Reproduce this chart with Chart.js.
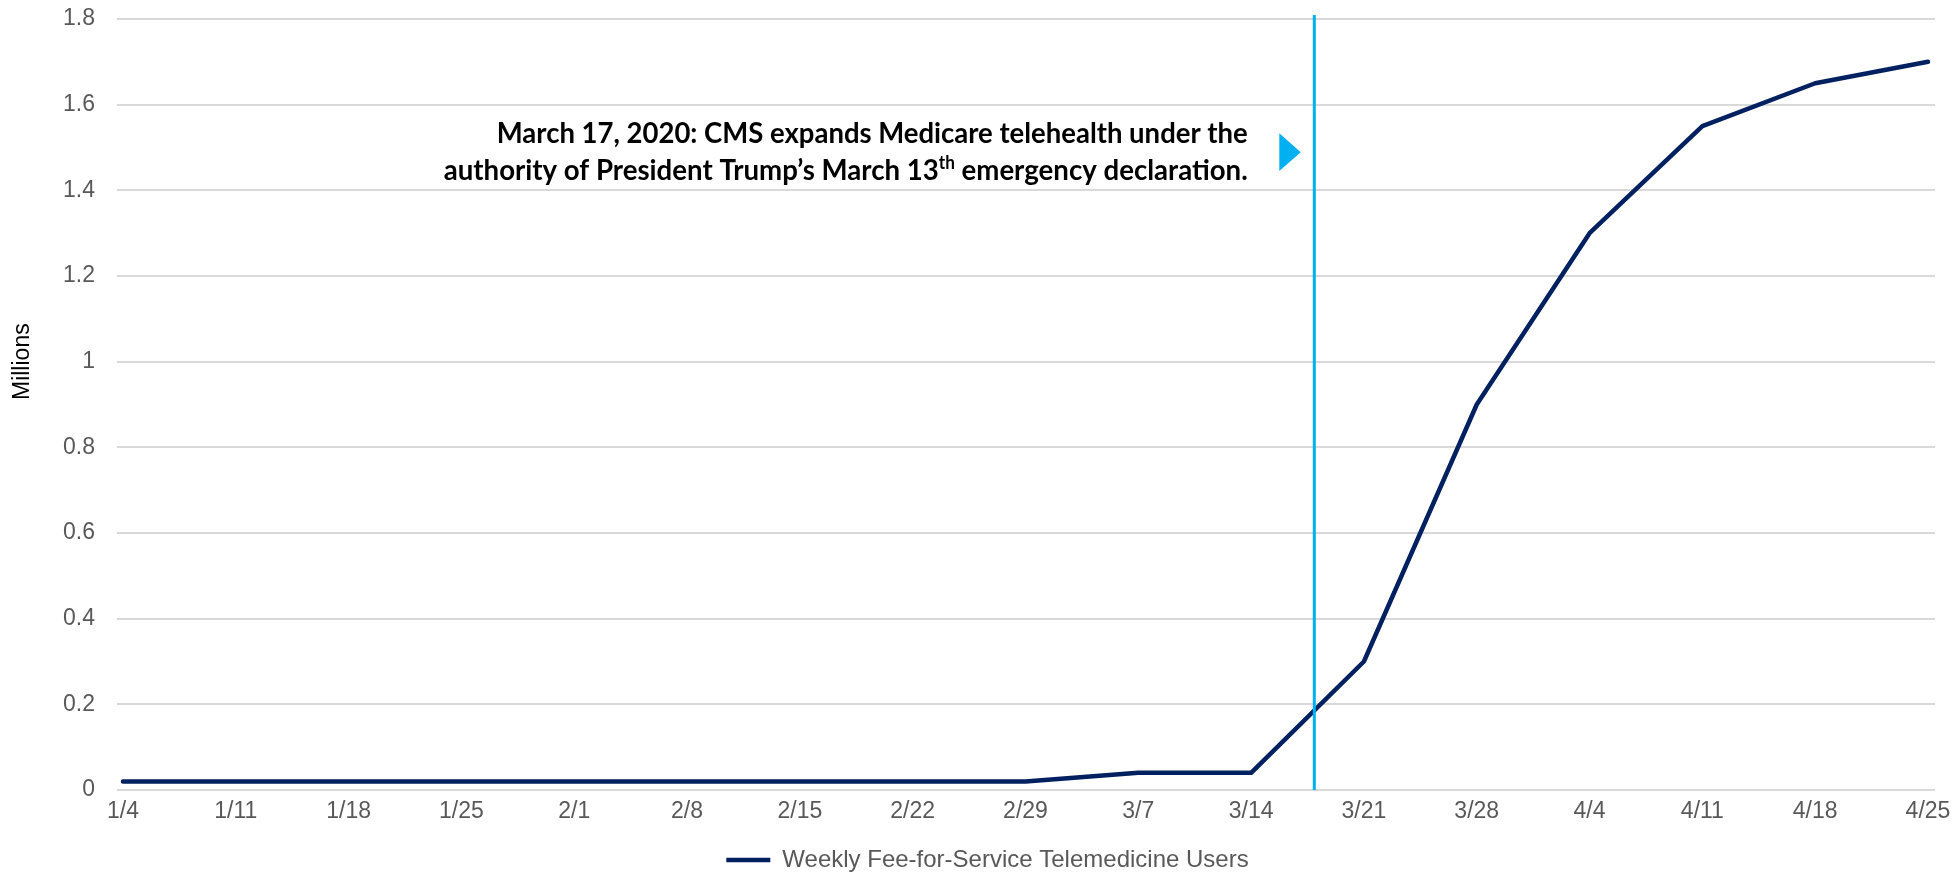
<!DOCTYPE html>
<html>
<head>
<meta charset="utf-8">
<title>Weekly Fee-for-Service Telemedicine Users</title>
<script src="https://cdn.jsdelivr.net/npm/chart.js@4.4.1/dist/chart.umd.min.js"></script>
<style>
  html, body { margin: 0; padding: 0; background: #fff; }
  #wrap { width: 1957px; height: 876px; }
</style>
</head>
<body>
<div id="wrap"><canvas id="telehealth-chart" width="1957" height="876"></canvas></div>
<script>
// Week starting dates (x axis)
const weeks = ['1/4', '1/11', '1/18', '1/25', '2/1', '2/8', '2/15', '2/22', '2/29',
  '3/7', '3/14', '3/21', '3/28', '4/4', '4/11', '4/18', '4/25'];

// Weekly FFS telemedicine users, in millions
const users = [0.02, 0.02, 0.02, 0.02, 0.02, 0.02, 0.02, 0.02, 0.02,
  0.04, 0.04, 0.3, 0.9, 1.3, 1.55, 1.65, 1.7];

const yTicks = [0, 0.2, 0.4, 0.6, 0.8, 1, 1.2, 1.4, 1.6, 1.8];

const seriesLabel = 'Weekly Fee-for-Service Telemedicine Users';
const yTitle = 'Millions';

// Annotation (positions in axis units)
const markerX = 10.56;           // vertical line, ~3/17
const arrowX = [10.25, 10.44];   // triangle base / tip
const arrowY = [1.445, 1.533];   // triangle bottom / top
const noteRight = 9.97;
const noteBaselines = [1.511, 1.425];
const noteWidths = [751, 804];
const noteLines = [
  [{ text: 'March 17, 2020: CMS expands Medicare telehealth under the' }],
  [
    { text: 'authority of President Trump\u2019s March 13' },
    { text: 'th', sup: true },
    { text: ' emergency declaration.' }
  ]
];

const tickFont = { family: "'Liberation Sans', Arial, sans-serif", size: 23 };

// Draw the vertical marker, arrow, note text and the y title
const annotationPlugin = {
  id: 'cmsNote',
  afterLayout(chart) {
    // legend sits a little right of centre and low in the original
    chart.legend.left += 20;
    chart.legend.right += 20;
    chart.legend.top += 6;
    chart.legend.bottom += 6;
  },
  afterDatasetsDraw(chart) {
    const { ctx, chartArea, scales: { x, y } } = chart;
    ctx.save();

    // vertical line
    const lx = x.getPixelForValue(markerX);
    ctx.strokeStyle = '#00b0f0';
    ctx.lineWidth = 3;
    ctx.beginPath();
    ctx.moveTo(lx, chartArea.top - 4);
    ctx.lineTo(lx, chartArea.bottom);
    ctx.stroke();

    // arrow
    const midY = (arrowY[0] + arrowY[1]) / 2;
    ctx.fillStyle = '#00b0f0';
    ctx.beginPath();
    ctx.moveTo(x.getPixelForValue(arrowX[0]), y.getPixelForValue(arrowY[1]));
    ctx.lineTo(x.getPixelForValue(arrowX[1]), y.getPixelForValue(midY));
    ctx.lineTo(x.getPixelForValue(arrowX[0]), y.getPixelForValue(arrowY[0]));
    ctx.closePath();
    ctx.fill();

    // note text, squeezed to the narrow Calibri widths
    const mainFont = 'bold 29px Lato, "Open Sans", sans-serif';
    const supFont = 'bold 18px Lato, "Open Sans", sans-serif';
    const right = x.getPixelForValue(noteRight);
    ctx.fillStyle = '#000';
    ctx.textAlign = 'left';
    ctx.textBaseline = 'alphabetic';
    noteLines.forEach((parts, i) => {
      let total = 0;
      parts.forEach(p => {
        ctx.font = p.sup ? supFont : mainFont;
        p.w = ctx.measureText(p.text).width;
        total += p.w;
      });
      const sx = noteWidths[i] / total;
      ctx.save();
      ctx.translate(right - noteWidths[i], y.getPixelForValue(noteBaselines[i]));
      ctx.scale(sx, 1);
      let cx = 0;
      parts.forEach(p => {
        ctx.font = p.sup ? supFont : mainFont;
        ctx.fillText(p.text, cx, p.sup ? -11 : 0);
        cx += p.w;
      });
      ctx.restore();
    });

    // y axis title, sits around the 1.0 line
    ctx.save();
    ctx.translate(23, y.getPixelForValue(1));
    ctx.rotate(-Math.PI / 2);
    ctx.font = "23px 'Liberation Sans', Arial, sans-serif";
    ctx.fillStyle = '#000';
    ctx.textAlign = 'center';
    ctx.textBaseline = 'middle';
    ctx.fillText(yTitle, 0, 0);
    ctx.restore();

    ctx.restore();
  }
};

const renderChart = () => {
  const ctx = document.getElementById('telehealth-chart');

  new Chart(ctx, {
    type: 'line',
    data: {
      datasets: [{
        label: seriesLabel,
        data: users.map((v, i) => ({ x: i, y: v })),
        borderColor: '#002060',
        backgroundColor: '#002060',
        borderWidth: 4.5,
        borderCapStyle: 'round',
        borderJoinStyle: 'round',
        pointRadius: 0,
        tension: 0
      }]
    },
    options: {
      responsive: false,
      animation: false,
      devicePixelRatio: 1,
      layout: {
        padding: { top: 19, right: 22, bottom: 0, left: 0 }
      },
      scales: {
        x: {
          type: 'linear',
          min: -0.053,
          max: 16.062,
          afterBuildTicks: (scale) => {
            scale.ticks = weeks.map((w, i) => ({ value: i }));
          },
          afterFit: (scale) => { scale.height = 52; },
          grid: { display: false, drawTicks: true, tickLength: 8 },
          border: { display: false },
          ticks: {
            autoSkip: false,
            maxRotation: 0,
            padding: 0,
            color: '#595959',
            font: tickFont,
            callback: (v) => weeks[v]
          }
        },
        y: {
          min: 0,
          max: 1.8,
          afterBuildTicks: (scale) => {
            scale.ticks = yTicks.map(v => ({ value: v }));
          },
          afterFit: (scale) => { scale.width = 117; },
          grid: {
            color: '#d9d9d9',
            lineWidth: 2,
            drawTicks: true,
            tickLength: 18,
            tickColor: 'rgba(0,0,0,0)'
          },
          border: { display: false },
          ticks: {
            padding: 4,
            color: '#595959',
            font: tickFont,
            callback: (v) => String(v)
          }
        }
      },
      plugins: {
        legend: {
          position: 'bottom',
          labels: {
            usePointStyle: true,
            pointStyle: 'line',
            pointStyleWidth: 44,
            padding: 0,
            color: '#595959',
            font: { family: "'Liberation Sans', Arial, sans-serif", size: 24 }
          }
        },
        tooltip: { enabled: false }
      }
    },
    plugins: [annotationPlugin]
  });
};

Promise.all([
  document.fonts.load('bold 29px Lato'),
  document.fonts.load('23px "Liberation Sans"')
]).catch(() => {}).then(renderChart);
</script>
</body>
</html>
